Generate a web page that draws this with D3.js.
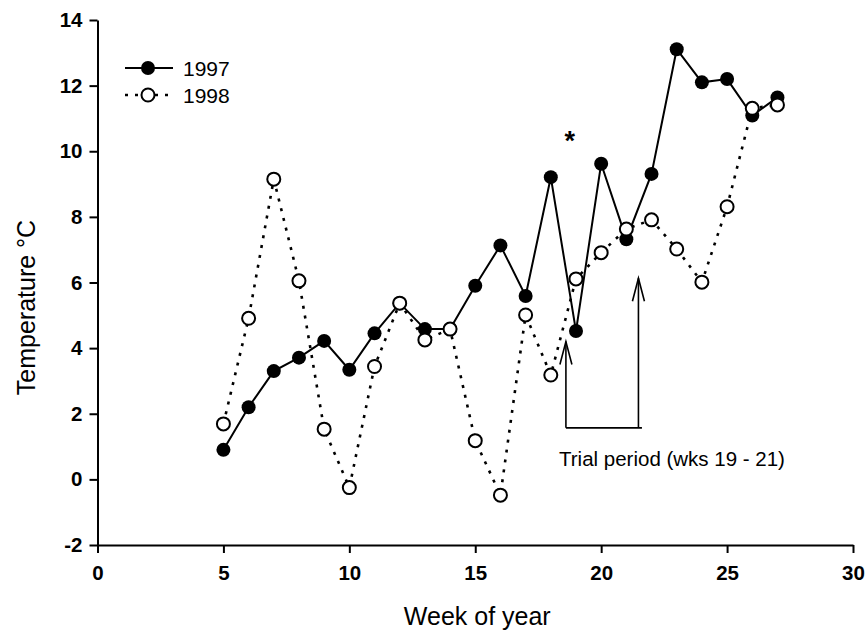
<!DOCTYPE html>
<html>
<head>
<meta charset="utf-8">
<script src="https://cdn.jsdelivr.net/npm/d3@7"></script>
<style>
  html, body { margin: 0; padding: 0; background: #fff; }
  svg { display: block; font-family: Arial, "Liberation Sans", sans-serif; }
</style>
</head>
<body>
<svg id="chart" width="867" height="631"></svg>
<script>
// Weekly mean water temperature, weeks 5–27
const weeks = [5, 6, 7, 8, 9, 10, 11, 12, 13, 14, 15, 16, 17, 18, 19, 20, 21, 22, 23, 24, 25, 26, 27];
const temp1997 = [0.90, 2.20, 3.30, 3.71, 4.22, 3.34, 4.45, 5.37, 4.58, 4.58, 5.90, 7.13, 5.59, 9.21, 4.52, 9.62, 7.32, 9.31, 13.11, 12.10, 12.20, 11.09, 11.64];
const temp1998 = [1.69, 4.91, 9.15, 6.05, 1.53, -0.25, 3.44, 5.37, 4.25, 4.58, 1.18, -0.48, 5.01, 3.18, 6.11, 6.91, 7.63, 7.91, 7.02, 6.01, 8.31, 11.31, 11.41];

const xTicks = [0, 5, 10, 15, 20, 25, 30];
const yTicks = [-2, 0, 2, 4, 6, 8, 10, 12, 14];
const seriesNames = ["1997", "1998"];

// Trial period bracket: arrow weeks, arrow tip temperatures, bracket base
const trialWeeks = [18.6, 21.48];
const trialTips = [4.2, 6.13];
const trialBase = 1.57;
const trialLabel = "Trial period (wks 19 - 21)";
const starMark = { week: 18.75, temp: 10.5 };

const svg = d3.select("#chart");
const x = d3.scaleLinear().domain([0, 30]).range([97.5, 853]);
const y = d3.scaleLinear().domain([-2, 14]).range([545, 20]);

// Axes (plain hyphen for negative tick labels)
const fmt = d => String(d);
const xAxis = svg.append("g")
  .attr("transform", `translate(0,${y(-2)})`)
  .call(d3.axisBottom(x).tickValues(xTicks).tickFormat(fmt).tickSize(8).tickSizeOuter(0).tickPadding(12));
const yAxis = svg.append("g")
  .attr("transform", `translate(${x(0)},0)`)
  .call(d3.axisLeft(y).tickValues(yTicks).tickFormat(fmt).tickSize(8).tickSizeOuter(0).tickPadding(7));

[xAxis, yAxis].forEach(g => {
  g.select(".domain").attr("stroke", "#000").attr("stroke-width", 2);
  g.selectAll(".tick line").attr("stroke", "#000").attr("stroke-width", 2);
  g.selectAll(".tick text")
    .attr("fill", "#000")
    .style("font-family", "Arial, 'Liberation Sans', sans-serif")
    .style("font-size", "20.5px")
    .style("font-weight", "bold");
});

// Axis titles
svg.append("text")
  .attr("x", (x(0) + x(30)) / 2 + 2)
  .attr("y", 625)
  .attr("text-anchor", "middle")
  .style("font-size", "25px")
  .text("Week of year");

svg.append("text")
  .attr("transform", `translate(35,${(y(-2) + y(14)) / 2 + 25}) rotate(-90)`)
  .attr("text-anchor", "middle")
  .style("font-size", "25px")
  .text("Temperature °C");

const pts1997 = weeks.map((w, i) => [w, temp1997[i]]);
const pts1998 = weeks.map((w, i) => [w, temp1998[i]]);
const line = d3.line().x(d => x(d[0])).y(d => y(d[1]));

// 1997: solid line with filled circles
svg.append("path")
  .attr("d", line(pts1997))
  .attr("fill", "none")
  .attr("stroke", "#000")
  .attr("stroke-width", 2);
svg.append("g").selectAll("circle")
  .data(pts1997).join("circle")
  .attr("cx", d => x(d[0]))
  .attr("cy", d => y(d[1]))
  .attr("r", 7)
  .attr("fill", "#000");

// 1998: dotted line with open circles
svg.append("path")
  .attr("d", line(pts1998))
  .attr("fill", "none")
  .attr("stroke", "#000")
  .attr("stroke-width", 2.6)
  .attr("stroke-dasharray", "3,7");
svg.append("g").selectAll("circle")
  .data(pts1998).join("circle")
  .attr("cx", d => x(d[0]))
  .attr("cy", d => y(d[1]))
  .attr("r", 6.5)
  .attr("fill", "#fff")
  .attr("stroke", "#000")
  .attr("stroke-width", 2);

// Legend
const legend = svg.append("g");
seriesNames.forEach((name, i) => {
  const ly = 68 + i * 27;
  legend.append("line")
    .attr("x1", 125).attr("x2", 173).attr("y1", ly).attr("y2", ly)
    .attr("stroke", "#000")
    .attr("stroke-width", i === 0 ? 2 : 2.6)
    .attr("stroke-dasharray", i === 0 ? null : "3,7");
  legend.append("circle")
    .attr("cx", 148).attr("cy", ly)
    .attr("r", i === 0 ? 7 : 6.5)
    .attr("fill", i === 0 ? "#000" : "#fff")
    .attr("stroke", "#000")
    .attr("stroke-width", i === 0 ? 0 : 2);
  legend.append("text")
    .attr("x", 183).attr("y", ly + 7.5)
    .style("font-size", "21px")
    .text(name);
});

// Significance marker
svg.append("text")
  .attr("x", x(starMark.week))
  .attr("y", y(starMark.temp) + 15)
  .attr("text-anchor", "middle")
  .style("font-size", "27px")
  .style("font-weight", "bold")
  .text("*");

// Trial period bracket with arrows
const ann = svg.append("g").attr("stroke", "#000").attr("stroke-width", 1.6).attr("fill", "none");
ann.append("line")
  .attr("x1", x(trialWeeks[0])).attr("x2", x(trialWeeks[1]) + 3.5)
  .attr("y1", y(trialBase)).attr("y2", y(trialBase));
trialWeeks.forEach((w, i) => {
  const ax = x(w), tip = y(trialTips[i]);
  ann.append("line")
    .attr("x1", ax).attr("x2", ax)
    .attr("y1", y(trialBase)).attr("y2", tip);
  ann.append("path")
    .attr("d", `M${ax - 6},${tip + 23}L${ax},${tip}L${ax + 6},${tip + 23}`);
});
svg.append("text")
  .attr("x", 559)
  .attr("y", 466)
  .style("font-size", "20.5px")
  .text(trialLabel);
</script>
</body>
</html>
